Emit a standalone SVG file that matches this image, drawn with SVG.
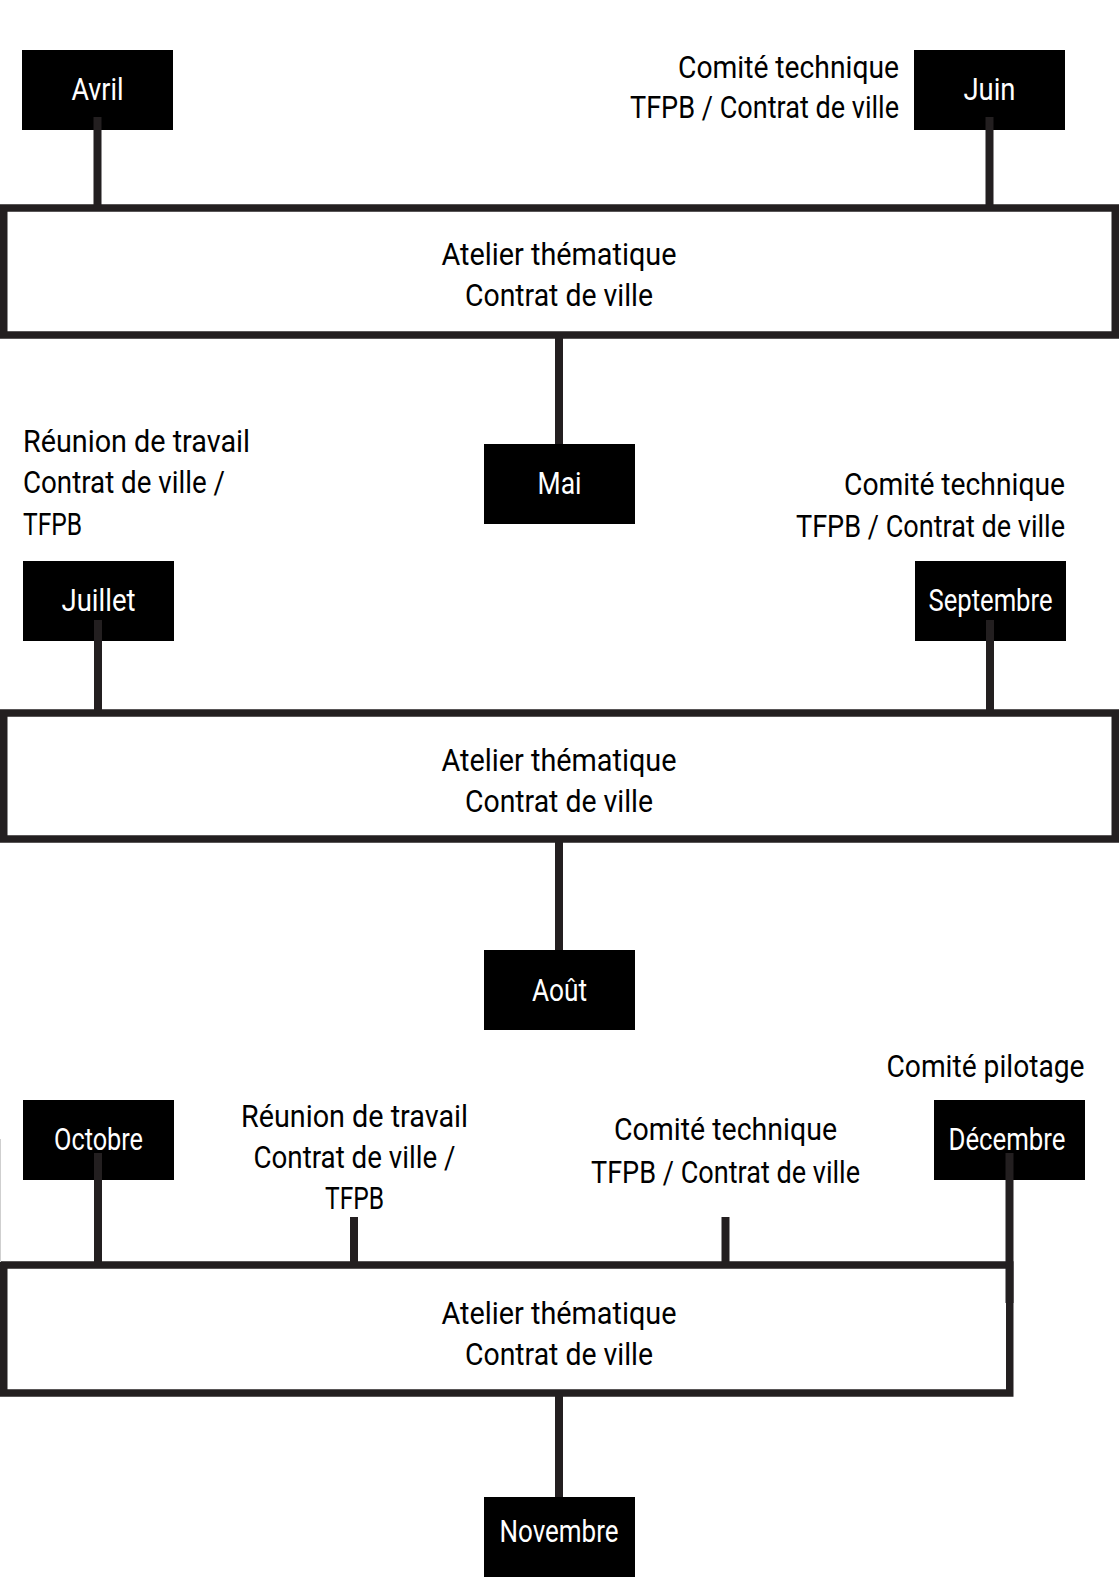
<svg xmlns="http://www.w3.org/2000/svg" width="1119" height="1588" viewBox="0 0 1119 1588">
<style>
  text { font-family: Roboto, "Liberation Sans", Arial, sans-serif; font-size: 32px; }
  .lbl { fill: #000; }
  .mon { fill: #fff; text-anchor: middle; }
  .box { fill: #000; }
  .atelier { fill: #fff; stroke: #231f20; stroke-width: 7.5; }
  .stem { stroke: #231f20; stroke-width: 8; fill: none; }
  .mid { text-anchor: middle; }
  .end { text-anchor: end; }
</style>
<rect width="1119" height="1588" fill="#fff"/>

<!-- Atelier boxes -->
<g id="atelier1">
  <rect class="atelier" x="3.75" y="208" width="1111.5" height="127"/>
  <text class="lbl mid" x="559" y="265" textLength="235" lengthAdjust="spacingAndGlyphs">Atelier thématique</text>
  <text class="lbl mid" x="559" y="306" textLength="188" lengthAdjust="spacingAndGlyphs">Contrat de ville</text>
</g>
<g id="atelier2">
  <rect class="atelier" x="3.75" y="713" width="1111.5" height="126"/>
  <text class="lbl mid" x="559" y="771" textLength="235" lengthAdjust="spacingAndGlyphs">Atelier thématique</text>
  <text class="lbl mid" x="559" y="812" textLength="188" lengthAdjust="spacingAndGlyphs">Contrat de ville</text>
</g>
<g id="atelier3">
  <rect class="atelier" x="3.75" y="1265" width="1006" height="128"/>
  <text class="lbl mid" x="559" y="1324" textLength="235" lengthAdjust="spacingAndGlyphs">Atelier thématique</text>
  <text class="lbl mid" x="559" y="1365" textLength="188" lengthAdjust="spacingAndGlyphs">Contrat de ville</text>
</g>

<!-- Month nodes -->
<g id="avril">
  <rect class="box" x="22" y="50" width="151" height="80"/>
  <text class="mon" x="97.5" y="100" textLength="52" lengthAdjust="spacingAndGlyphs">Avril</text>
</g>
<g id="juin">
  <rect class="box" x="914" y="50" width="151" height="80"/>
  <text class="mon" x="989.5" y="100" textLength="52" lengthAdjust="spacingAndGlyphs">Juin</text>
</g>
<g id="juin-label">
  <text class="lbl end" x="899" y="78" textLength="221" lengthAdjust="spacingAndGlyphs">Comité technique</text>
  <text class="lbl end" x="899" y="118" textLength="269" lengthAdjust="spacingAndGlyphs">TFPB / Contrat de ville</text>
</g>
<g id="mai">
  <rect class="box" x="484" y="444" width="151" height="80"/>
  <text class="mon" x="559.5" y="494" textLength="44" lengthAdjust="spacingAndGlyphs">Mai</text>
</g>
<g id="juillet-label">
  <text class="lbl" x="23" y="452" textLength="227" lengthAdjust="spacingAndGlyphs">Réunion de travail</text>
  <text class="lbl" x="23" y="493" textLength="202" lengthAdjust="spacingAndGlyphs">Contrat de ville /</text>
  <text class="lbl" x="23" y="535" textLength="59" lengthAdjust="spacingAndGlyphs">TFPB</text>
</g>
<g id="juillet">
  <rect class="box" x="23" y="561" width="151" height="80"/>
  <text class="mon" x="98.5" y="611" textLength="74" lengthAdjust="spacingAndGlyphs">Juillet</text>
</g>
<g id="septembre-label">
  <text class="lbl end" x="1065" y="495" textLength="221" lengthAdjust="spacingAndGlyphs">Comité technique</text>
  <text class="lbl end" x="1065" y="537" textLength="269" lengthAdjust="spacingAndGlyphs">TFPB / Contrat de ville</text>
</g>
<g id="septembre">
  <rect class="box" x="915" y="561" width="151" height="80"/>
  <text class="mon" x="990.5" y="611" textLength="124" lengthAdjust="spacingAndGlyphs">Septembre</text>
</g>
<g id="aout">
  <rect class="box" x="484" y="950" width="151" height="80"/>
  <text class="mon" x="559.5" y="1001" textLength="55" lengthAdjust="spacingAndGlyphs">Août</text>
</g>
<g id="octobre">
  <rect class="box" x="23" y="1100" width="151" height="80"/>
  <text class="mon" x="98.5" y="1150" textLength="89" lengthAdjust="spacingAndGlyphs">Octobre</text>
</g>
<g id="reunion-octobre">
  <text class="lbl mid" x="354.5" y="1127" textLength="227" lengthAdjust="spacingAndGlyphs">Réunion de travail</text>
  <text class="lbl mid" x="354.5" y="1168" textLength="202" lengthAdjust="spacingAndGlyphs">Contrat de ville /</text>
  <text class="lbl mid" x="354.5" y="1209" textLength="59" lengthAdjust="spacingAndGlyphs">TFPB</text>
</g>
<g id="comite-technique-nov">
  <text class="lbl mid" x="725.5" y="1140" textLength="223" lengthAdjust="spacingAndGlyphs">Comité technique</text>
  <text class="lbl mid" x="725.5" y="1183" textLength="269" lengthAdjust="spacingAndGlyphs">TFPB / Contrat de ville</text>
</g>
<g id="decembre-label">
  <text class="lbl mid" x="985.5" y="1077" textLength="198" lengthAdjust="spacingAndGlyphs">Comité pilotage</text>
</g>
<g id="decembre">
  <rect class="box" x="934" y="1100" width="151" height="80"/>
  <text class="mon" x="1007" y="1150" textLength="117" lengthAdjust="spacingAndGlyphs">Décembre</text>
</g>
<g id="novembre">
  <rect class="box" x="484" y="1497" width="151" height="80"/>
  <text class="mon" x="559" y="1542" textLength="119" lengthAdjust="spacingAndGlyphs">Novembre</text>
</g>

<!-- Connectors -->
<g id="connectors" class="stem">
  <line x1="97.5" y1="117" x2="97.5" y2="208"/>
  <line x1="989.5" y1="117" x2="989.5" y2="208"/>
  <line x1="559" y1="335" x2="559" y2="444"/>
  <line x1="98" y1="620" x2="98" y2="713"/>
  <line x1="990" y1="620" x2="990" y2="713"/>
  <line x1="559" y1="839" x2="559" y2="950"/>
  <line x1="98" y1="1153" x2="98" y2="1265"/>
  <line x1="354" y1="1217" x2="354" y2="1265"/>
  <line x1="725.5" y1="1217" x2="725.5" y2="1265"/>
  <line x1="1009.5" y1="1153" x2="1009.5" y2="1303"/>
  <line x1="559" y1="1393" x2="559" y2="1497"/>
</g>
<line x1="0.5" y1="1139" x2="0.5" y2="1262" stroke="#cfcfcf" stroke-width="1"/>
</svg>
